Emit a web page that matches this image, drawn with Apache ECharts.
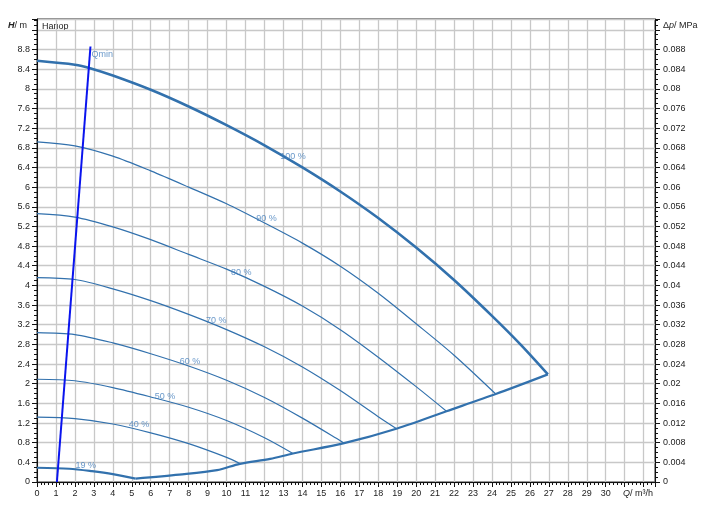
<!DOCTYPE html>
<html><head><meta charset="utf-8">
<script src="https://cdn.jsdelivr.net/npm/echarts@6/dist/echarts.min.js"></script>
<style>html,body{margin:0;padding:0;background:#fff}#c{width:708px;height:514px}</style>
</head><body><div id="c"></div>
<script>
// Pump curves: Q in m3/h, H in m
const q100 = [0, 2, 2.8, 4, 6, 8, 10, 12, 14, 16, 18, 20, 22, 24, 25.5, 26.95];
const h100 = [8.57, 8.49, 8.42, 8.27, 7.98, 7.64, 7.26, 6.85, 6.40, 5.91, 5.37, 4.77, 4.11, 3.38, 2.80, 2.19];
const q90 = [0, 2, 4, 6, 8, 10, 12, 14, 16, 18, 20, 22, 24.2];
const h90 = [6.92, 6.84, 6.63, 6.33, 6.0, 5.66, 5.27, 4.86, 4.39, 3.84, 3.22, 2.58, 1.79];
const q80 = [0, 2, 4, 6, 8, 10, 12, 14, 16, 18, 20, 21.6];
const h80 = [5.46, 5.39, 5.19, 4.93, 4.63, 4.33, 3.98, 3.58, 3.10, 2.54, 1.94, 1.44];
const q70 = [0, 2, 4, 6, 8, 10, 12, 14, 16, 18, 18.95];
const h70 = [4.16, 4.12, 3.93, 3.69, 3.41, 3.1, 2.75, 2.34, 1.86, 1.33, 1.09];
const q60 = [0, 2, 4, 6, 8, 10, 12, 14, 16, 16.2];
const h60 = [3.04, 3.0, 2.83, 2.61, 2.36, 2.07, 1.72, 1.3, 0.84, 0.79];
const q50 = [0, 2, 4, 6, 8, 10, 12, 13.5];
const h50 = [2.09, 2.06, 1.92, 1.73, 1.52, 1.25, 0.9, 0.58];
const q40 = [0, 2, 4, 6, 8, 10, 10.7];
const h40 = [1.32, 1.29, 1.18, 1.0, 0.78, 0.5, 0.375];
const q19 = [0, 1.7, 2.9, 4, 5.2];
const h19 = [0.29, 0.27, 0.22, 0.16, 0.07];
const qLimit = [5.2, 7.5, 9.5, 10.7, 12.3, 13.5, 16.2, 19.0, 21.6, 24.2, 26.95];
const hLimit = [0.07, 0.15, 0.24, 0.37, 0.47, 0.58, 0.79, 1.09, 1.44, 1.79, 2.19];
const qMinLine = [1.05, 2.82];
const hMinLine = [0, 8.86];
// curve labels
const labelText = ['100 %', '90 %', '80 %', '70 %', '60 %', '50 %', '40 %', '19 %', 'Qmin'];
const labelQ = [13.51, 12.11, 10.78, 9.46, 8.07, 6.75, 5.38, 2.57, 3.44];
const labelH = [6.62, 5.36, 4.26, 3.29, 2.46, 1.745, 1.16, 0.334, 8.69];

const pairs = (q, h) => q.map((v, i) => [v, h[i]]);
const curveColor = '#3271ad';
const lineSeries = (name, q, h, w, color) => ({
  name, type: 'line', data: pairs(q, h), xAxisIndex: 0, yAxisIndex: 0,
  symbol: 'none', smooth: 0.3, silent: true,
  lineStyle: { color: color || curveColor, width: w }, z: 5
});
const fontFam = '"Liberation Sans", Arial, sans-serif';

const chart = echarts.init(document.getElementById('c'), null, { renderer: 'canvas' });
chart.setOption({
  animation: false,
  backgroundColor: '#fff',
  grid: { left: 37, right: 53, top: 19, bottom: 32, show: true, borderColor: '#111', borderWidth: 1, backgroundColor: 'transparent', containLabel: false },
  xAxis: {
    type: 'value', min: 0, max: 32.6, interval: 1,
    axisLine: { show: true, onZero: false, lineStyle: { color: '#111', width: 1 } },
    axisTick: { show: true, length: 5, lineStyle: { color: '#111' } },
    minorTick: { show: true, splitNumber: 5, length: 3, lineStyle: { color: '#111' } },
    axisLabel: { margin: 7, fontSize: 9, color: '#222', fontFamily: fontFam,
      formatter: v => (v <= 30.001 && Math.abs(v - Math.round(v)) < 1e-6) ? String(Math.round(v)) : '' },
    splitLine: { show: true, lineStyle: { color: '#c8c8c8', width: 1.3 } }
  },
  yAxis: [{
    type: 'value', min: 0, max: 9.42, interval: 0.4, position: 'left',
    axisLine: { show: true, onZero: false, lineStyle: { color: '#111', width: 1 } },
    axisTick: { show: true, length: 5, lineStyle: { color: '#111' } },
    minorTick: { show: true, splitNumber: 4, length: 3, lineStyle: { color: '#111' } },
    axisLabel: { margin: 7, fontSize: 9, color: '#222', fontFamily: fontFam,
      formatter: v => v <= 8.801 ? String(+v.toFixed(1)) : '' },
    splitLine: { show: true, lineStyle: { color: '#c8c8c8', width: 1.3 } }
  }, {
    type: 'value', min: 0, max: 0.0942, interval: 0.004, position: 'right',
    axisLine: { show: true, onZero: false, lineStyle: { color: '#111', width: 1 } },
    axisTick: { show: true, length: 5, lineStyle: { color: '#111' } },
    minorTick: { show: true, splitNumber: 4, length: 3, lineStyle: { color: '#111' } },
    axisLabel: { margin: 8, fontSize: 9, color: '#222', fontFamily: fontFam,
      formatter: v => v <= 0.08801 ? String(+v.toFixed(3)) : '' },
    splitLine: { show: false }
  }],
  series: [
    lineSeries('100 %', q100, h100, 2.6),
    lineSeries('90 %', q90, h90, 1.2),
    lineSeries('80 %', q80, h80, 1.2),
    lineSeries('70 %', q70, h70, 1.2),
    lineSeries('60 %', q60, h60, 1.2),
    lineSeries('50 %', q50, h50, 1.2),
    lineSeries('40 %', q40, h40, 1.2),
    lineSeries('19 %', q19, h19, 2.2),
    lineSeries('limit', qLimit, hLimit, 2.2),
    Object.assign(lineSeries('Qmin', qMinLine, hMinLine, 2, '#0a14ee'), { smooth: false, z: 6 }),
    {
      type: 'scatter', xAxisIndex: 0, yAxisIndex: 0, silent: true, z: 7,
      symbol: 'circle', symbolSize: 1, itemStyle: { color: 'rgba(0,0,0,0)' },
      data: labelText.map((t, i) => ({ value: [labelQ[i], labelH[i]], name: t })),
      label: { show: true, position: 'inside', formatter: p => p.name, fontSize: 9,
        color: '#4580bd', fontFamily: fontFam, align: 'center', verticalAlign: 'middle' }
    }
  ],
  graphic: [
    { type: 'text', left: 8, top: 21, style: { text: '{i|H}/ m', font: '9px ' + fontFam, fill: '#222',
      rich: { i: { fontStyle: 'italic', fontWeight: 'bold', fontSize: 9, fontFamily: fontFam, fill: '#222' } } } },
    { type: 'text', left: 42, top: 22, style: { text: 'Напор', font: '9px ' + fontFam, fill: '#222' } },
    { type: 'text', left: 663, top: 21, style: { text: 'Δ{i|p}/ MPa', font: '9px ' + fontFam, fill: '#222',
      rich: { i: { fontStyle: 'italic', fontSize: 9, fontFamily: fontFam, fill: '#222' } } } },
    { type: 'text', left: 623, top: 489, style: { text: '{i|Q}/ m³/h', font: '9px ' + fontFam, fill: '#222',
      rich: { i: { fontStyle: 'italic', fontSize: 9, fontFamily: fontFam, fill: '#222' } } } }
  ]
});
</script>
</body></html>
